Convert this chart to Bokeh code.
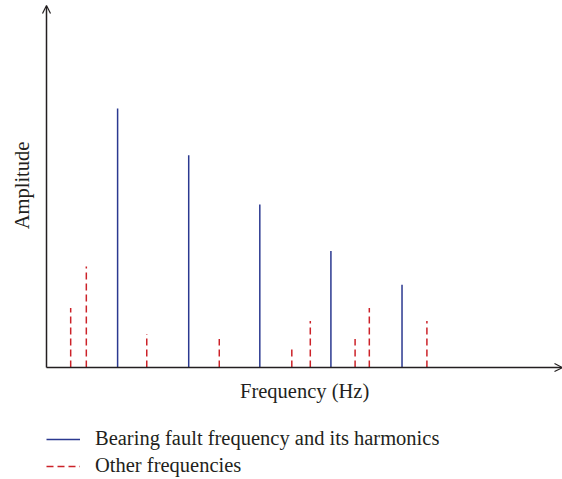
import math
from bokeh.plotting import figure
from bokeh.models import Range1d, Arrow, OpenHead, Label, Legend, LegendItem
from bokeh.embed import file_html
from bokeh.resources import INLINE

# Data (arbitrary units)
fault_freqs = [1.0, 2.0, 3.0, 4.0, 5.0]
fault_amps = [1.00, 0.82, 0.63, 0.45, 0.32]
other_freqs = [0.34, 0.56, 1.41, 2.43, 3.45, 3.71, 4.34, 4.54, 5.35]
other_amps = [0.23, 0.39, 0.13, 0.11, 0.08, 0.18, 0.11, 0.23, 0.18]

x_label = "Frequency (Hz)"
y_label = "Amplitude"
legend_labels = ["Bearing fault frequency and its harmonics", "Other frequencies"]

BLUE = "#2b3990"
RED = "#cc2229"
AXIS = "#231f20"
FONT = "Liberation Serif"
FS = "20.5px"

W, H = 562, 479
p = figure(width=W, height=H, output_backend="svg", toolbar_location=None,
           x_range=Range1d(-0.647, 7.257), y_range=Range1d(-0.432, 1.417),
           min_border=0)
p.axis.visible = False
p.grid.visible = False
p.outline_line_color = None
p.background_fill_color = "white"
p.border_fill_color = "white"

r_fault = p.segment(x0=fault_freqs, y0=[0] * len(fault_freqs), x1=fault_freqs, y1=fault_amps,
                    line_color=BLUE, line_width=1.5)
r_other = p.segment(x0=other_freqs, y0=[0] * len(other_freqs), x1=other_freqs, y1=other_amps,
                    line_color=RED, line_width=1.5, line_dash="7 4")

# axes with arrows
p.add_layout(Arrow(x_start=0, y_start=0, x_end=7.257, y_end=0, line_color=AXIS, line_width=1.5,
                   end=OpenHead(size=8, line_color=AXIS, line_width=1.2)))
p.add_layout(Arrow(x_start=0, y_start=0, x_end=0, y_end=1.398, line_color=AXIS, line_width=1.5,
                   end=OpenHead(size=8, line_color=AXIS, line_width=1.2)))

p.add_layout(Label(x=3.63, y=-0.089, text=x_label, text_align="center", text_baseline="middle",
                   text_font=FONT, text_font_size=FS, text_color="#231f20"))
p.add_layout(Label(x=-0.338, y=0.703, text=y_label, text_align="center", text_baseline="middle",
                   angle=math.pi / 2, text_font=FONT, text_font_size=FS, text_color="#231f20"))

legend = Legend(items=[LegendItem(label=legend_labels[0], renderers=[r_fault]),
                       LegendItem(label=legend_labels[1], renderers=[r_other])],
                location=(46, 2), orientation="vertical",
                glyph_width=34, glyph_height=20, label_height=20, spacing=4,
                label_standoff=15, padding=0, margin=0,
                border_line_color=None, background_fill_alpha=0,
                label_text_font=FONT, label_text_font_size=FS, label_text_color="#231f20")
p.add_layout(legend)

open("out.html", "w").write(file_html(p, INLINE))
